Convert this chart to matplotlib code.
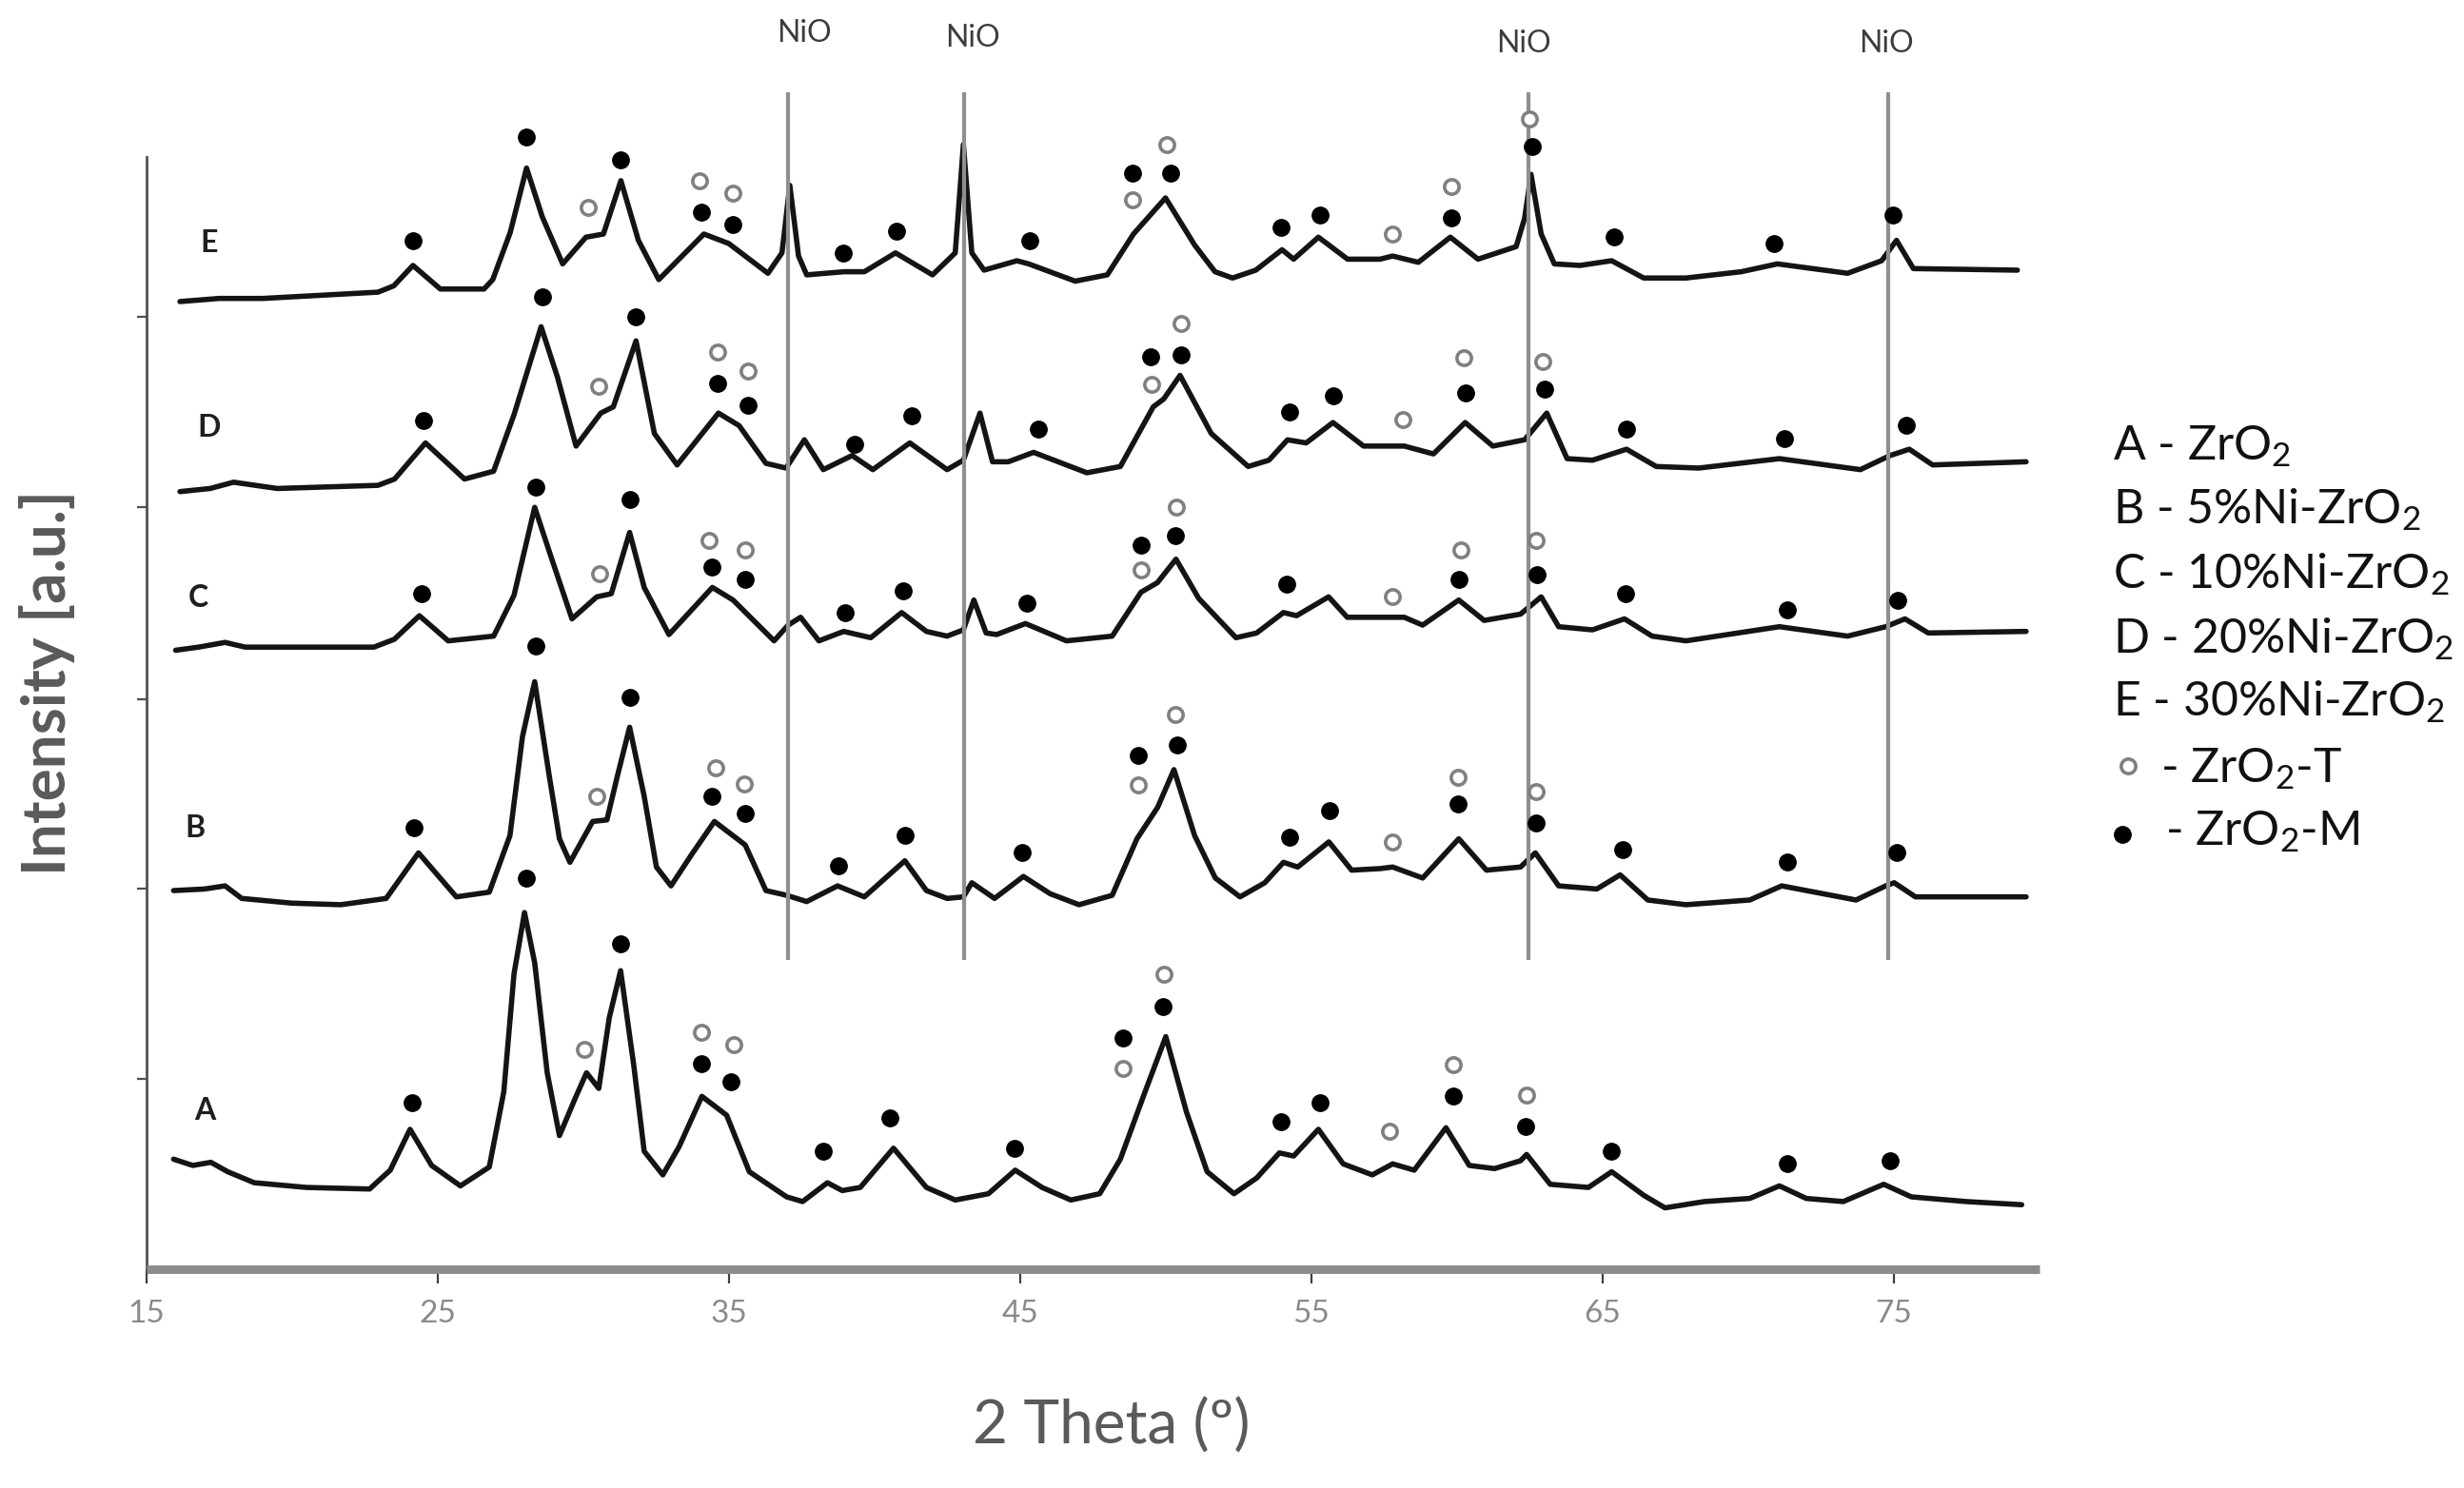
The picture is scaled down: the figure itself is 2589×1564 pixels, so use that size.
import matplotlib
matplotlib.use('Agg')
import matplotlib.pyplot as plt
from matplotlib.lines import Line2D

plt.rcParams['font.family'] = ['Lato', 'DejaVu Sans']
plt.rcParams['mathtext.fontset'] = 'custom'
plt.rcParams['mathtext.rm'] = 'Lato'
plt.rcParams['mathtext.it'] = 'Lato:italic'
plt.rcParams['mathtext.bf'] = 'Lato:bold'

# ---------------- data (2 theta in degrees, intensity in a.u.) ----------------
A_theta = [15.94, 16.6, 17.22, 17.8, 18.71, 20.5, 22.67, 23.38, 24.06, 24.8, 25.79, 26.78, 27.28, 27.63,
           27.99, 28.34, 28.77, 29.19, 29.76, 30.12, 30.54, 30.9, 31.29, 31.74, 32.1, 32.74, 33.3, 34.08,
           34.93, 35.71, 36.99, 37.54, 38.39, 38.9, 39.52, 40.66, 41.79, 42.78, 43.92, 44.84, 45.76, 46.75,
           47.74, 48.45, 49.3, 50.01, 50.72, 51.43, 52.35, 53.13, 53.91, 54.4, 55.25, 56.1, 57.1, 57.8,
           58.54, 59.63, 60.43, 61.3, 62.19, 62.4, 63.21, 64.52, 65.32, 66.42, 67.15, 68.5, 70.06, 71.08,
           72.0, 73.27, 74.66, 75.61, 77.5, 79.4]
A_int = [70, 66, 68, 62, 55, 52, 51, 63, 89, 66, 53, 65, 113, 188,
         227, 195, 125, 85, 110, 125, 115, 160, 190, 130, 75, 60, 78, 110,
         98, 62, 46, 43, 55, 50, 52, 77, 52, 44, 48, 63, 52, 44,
         48, 70, 113, 148, 100, 62, 48, 58, 74, 72, 89, 67, 60, 67,
         63, 90, 66, 64, 69, 73, 54, 52, 62, 47, 39, 43, 45, 53,
         45, 43, 54, 46, 43, 41]

B_theta = [15.94, 17.0, 17.71, 18.28, 20.0, 21.68, 23.24, 24.35, 25.65, 26.78, 27.49, 27.92, 28.34, 28.84,
           29.19, 29.55, 30.33, 30.82, 31.18, 31.6, 32.1, 32.52, 33.02, 33.73, 34.51, 35.29, 35.57, 36.28,
           36.99, 37.68, 38.74, 39.66, 41.05, 41.79, 42.5, 43.06, 43.35, 44.13, 45.12, 46.04, 47.03, 48.17,
           49.02, 49.73, 50.29, 51.0, 51.71, 52.56, 53.41, 54.05, 54.54, 55.61, 56.39, 57.37, 57.8, 58.83,
           60.07, 61.02, 62.19, 62.7, 63.5, 64.81, 65.61, 66.56, 67.87, 70.06, 71.16, 73.71, 74.73, 75.02,
           75.75, 79.55]
B_int = [241, 242, 244, 236, 233, 232, 236, 265, 237, 240, 276, 339, 374, 314,
         274, 259, 285, 286, 314, 345, 301, 256, 244, 264, 285, 274, 270, 241,
         238, 234, 244, 237, 260, 241, 236, 237, 246, 236, 250, 239, 232, 238,
         274, 294, 318, 276, 249, 237, 246, 259, 256, 272, 254, 255, 256, 249,
         274, 254, 256, 265, 244, 242, 251, 235, 232, 235, 244, 235, 244, 246,
         237, 237]

C_theta = [16.01, 16.8, 17.71, 18.4, 20.5, 22.82, 23.52, 24.38, 25.37, 26.93, 27.63, 28.34, 28.91, 29.62,
           30.47, 30.97, 31.6, 32.1, 32.95, 34.44, 35.15, 36.56, 37.04, 37.47, 38.1, 38.95, 39.88, 40.94,
           41.79, 42.5, 43.06, 43.42, 43.84, 44.2, 45.19, 46.6, 48.17, 49.16, 49.72, 50.36, 51.14, 52.42,
           53.13, 54.05, 54.5, 55.6, 56.24, 57.37, 58.2, 58.83, 60.07, 60.94, 62.19, 62.9, 63.5, 64.66,
           65.76, 66.71, 67.87, 71.08, 73.42, 74.73, 75.39, 76.19, 79.55]
C_int = [394, 396, 399, 396, 396, 396, 401, 416, 400, 403, 429, 485, 453, 414,
         428, 430, 469, 434, 404, 434, 426, 400, 410, 415, 400, 406, 402, 418,
         406, 403, 407, 426, 405, 404, 411, 400, 403, 431, 437, 452, 427, 402,
         405, 418, 416, 428, 415, 415, 415, 410, 426, 413, 417, 428, 409, 407,
         414, 403, 400, 409, 403, 409, 414, 405, 406]

D_theta = [16.16, 17.2, 18.0, 19.5, 22.96, 23.53, 24.59, 25.93, 26.93, 27.63, 28.56, 29.12, 29.76, 30.61,
           31.04, 31.82, 32.45, 33.23, 34.65, 35.36, 36.28, 36.97, 37.6, 38.25, 39.24, 39.95, 41.22, 42.5,
           43.06, 43.63, 44.06, 44.6, 45.47, 47.3, 48.45, 49.58, 49.94, 50.5, 51.57, 52.84, 53.55, 54.19,
           54.83, 55.75, 56.8, 58.2, 59.2, 60.29, 61.24, 62.33, 63.09, 63.79, 64.66, 65.83, 66.85, 68.31,
           71.08, 73.86, 74.88, 75.54, 76.34, 79.55]
D_int = [495, 497, 501, 497, 499, 503, 526, 503, 508, 544, 600, 568, 524, 545,
         549, 591, 532, 512, 545, 537, 513, 510, 528, 509, 518, 509, 526, 509,
         515, 545, 514, 514, 520, 507, 511, 549, 554, 569, 532, 511, 515, 528,
         526, 539, 524, 524, 519, 539, 524, 528, 545, 516, 515, 522, 511, 510,
         516, 509, 518, 522, 512, 514]

E_theta = [16.16, 17.5, 19.0, 21.0, 22.96, 23.5, 24.16, 25.1, 26.6, 26.9, 27.5, 28.06, 28.6, 29.3,
           30.1, 30.7, 31.3, 31.9, 32.6, 34.15, 35.0, 36.35, 36.83, 37.1, 37.4, 37.68, 38.96, 39.66,
           40.73, 42.0, 42.78, 43.06, 43.35, 43.77, 44.9, 45.3, 46.9, 48.0, 48.9, 50.0, 51.0, 51.7,
           52.3, 53.1, 54.0, 54.4, 55.25, 56.25, 57.37, 57.8, 58.68, 59.78, 60.73, 62.04, 62.33, 62.55,
           62.9, 63.35, 64.23, 65.32, 66.42, 67.87, 69.77, 71.01, 73.42, 74.59, 75.1, 75.68, 79.25]
E_int = [616, 618, 618, 620, 622, 626, 639, 624, 624, 630, 660, 701, 670, 640,
         657, 659, 693, 655, 630, 659, 653, 634, 647, 690, 645, 633, 635, 635,
         647, 633, 647, 716, 647, 636, 642, 640, 629, 633, 659, 682, 652, 635,
         631, 636, 649, 643, 657, 643, 643, 645, 641, 657, 643, 651, 669, 697,
         659, 640, 639, 642, 631, 631, 635, 640, 634, 642, 655, 637, 636]

# phase markers: monoclinic (filled) and tetragonal (open) ZrO2
A_M_theta = [24.12, 28.06, 31.29, 34.08, 35.08, 38.25, 40.54, 44.81, 48.55, 49.9, 53.95, 55.32, 59.89, 62.37, 65.32, 71.35, 74.88]
A_M_int = [106, 249, 207, 131, 119, 75, 96, 77, 147, 167, 94, 106, 110, 91, 75, 67, 69]
A_T_theta = [30.04, 34.08, 35.17, 48.55, 49.94, 57.7, 59.89, 62.4]
A_T_int = [140, 151, 143, 128, 188, 88, 130, 111]

B_M_theta = [24.21, 28.39, 31.6, 34.41, 35.57, 38.77, 41.05, 45.09, 49.06, 50.41, 54.26, 55.64, 60.03, 62.74, 65.69, 71.35, 75.1]
B_M_int = [281, 397, 364, 301, 290, 257, 276, 265, 327, 334, 275, 292, 296, 284, 267, 259, 265]
B_T_theta = [30.47, 34.55, 35.54, 49.06, 50.33, 57.8, 60.03, 62.74]
B_T_int = [301, 319, 309, 308, 353, 272, 313, 304]

C_M_theta = [24.45, 28.39, 31.6, 34.41, 35.57, 39.0, 40.98, 45.23, 49.16, 50.33, 54.15, 60.07, 62.77, 65.8, 71.35, 75.14]
C_M_int = [430, 498, 490, 447, 439, 418, 432, 424, 461, 467, 436, 439, 442, 430, 420, 426]
C_T_theta = [30.57, 34.34, 35.57, 49.16, 50.36, 57.8, 60.14, 62.74]
C_T_int = [443, 464, 458, 445, 485, 428, 458, 464]

D_M_theta = [24.52, 28.6, 31.82, 34.62, 35.67, 39.31, 41.29, 45.64, 49.48, 50.55, 54.26, 55.75, 60.29, 63.03, 65.83, 71.26, 75.42]
D_M_int = [540, 619, 606, 564, 550, 525, 543, 535, 581, 582, 546, 556, 558, 560, 535, 529, 537]
D_T_theta = [30.54, 34.62, 35.67, 49.51, 50.55, 58.16, 60.24, 62.96]
D_T_int = [562, 584, 572, 563, 602, 541, 580, 578]

E_M_theta = [24.16, 28.06, 31.29, 34.08, 35.15, 38.93, 40.75, 45.33, 48.88, 50.19, 53.95, 55.32, 59.82, 62.58, 65.39, 70.91, 74.98]
E_M_int = [655, 721, 706, 673, 665, 647, 661, 655, 698, 698, 663, 671, 669, 715, 657, 653, 671]
E_T_theta = [30.19, 34.01, 35.15, 48.88, 50.05, 57.8, 59.82, 62.51]
E_T_int = [676, 693, 685, 681, 716, 659, 689, 732]

series_names = ['A', 'B', 'C', 'D', 'E']
series_label_theta = [17.0, 16.67, 16.78, 17.16, 17.16]
series_label_int = [101, 281, 427, 536, 653]

nio_theta = [37.04, 43.09, 62.45, 74.83]
nio_label_theta = [37.6, 43.37, 62.3, 74.74]
nio_label_int = [787, 784, 780, 780]

xticks = [15, 25, 35, 45, 55, 65, 75]
yticks = [121, 242, 363, 485, 606]

legend_texts = ['A - ZrO$_2$', 'B - 5%Ni-ZrO$_2$', 'C - 10%Ni-ZrO$_2$',
                'D - 20%Ni-ZrO$_2$', 'E - 30%Ni-ZrO$_2$']

# ---------------- figure ----------------
fig = plt.figure(figsize=(25.89, 15.64), dpi=100)
ax = fig.add_axes([0.05933, 0.1471, 0.8276 - 0.05933, 0.8529])
ax.set_xlim(15, 80)
ax.set_ylim(0, 808)

traces = [(A_theta, A_int), (B_theta, B_int), (C_theta, C_int), (D_theta, D_int), (E_theta, E_int)]
for th, it in traces:
    ax.plot(th, it, color='#141414', lw=4.0, solid_joinstyle='round', solid_capstyle='round', zorder=2)

mono = [(A_M_theta, A_M_int), (B_M_theta, B_M_int), (C_M_theta, C_M_int), (D_M_theta, D_M_int), (E_M_theta, E_M_int)]
tetra = [(A_T_theta, A_T_int), (B_T_theta, B_T_int), (C_T_theta, C_T_int), (D_T_theta, D_T_int), (E_T_theta, E_T_int)]
for th, it in mono:
    ax.plot(th, it, 'o', ms=12.5, color='black', mec='black', zorder=5)
for th, it in tetra:
    ax.plot(th, it, 'o', ms=11, mfc='white', mec='#808080', mew=2.6, zorder=5)

ax.vlines(nio_theta, 197, 749, color='#8f8f8f', lw=3.0, zorder=3)
for xt, yt in zip(nio_label_theta, nio_label_int):
    ax.text(xt, yt, 'NiO', fontsize=23, ha='center', va='center', color='#3c3c3c', clip_on=False)

for name, xt, yt in zip(series_names, series_label_theta, series_label_int):
    ax.text(xt, yt, name, fontsize=23, ha='center', va='center', color='#1f1f1f', fontweight='bold')

# axes styling
for s in ['top', 'right']:
    ax.spines[s].set_visible(False)
ax.spines['bottom'].set_color('#8c8c8c')
ax.spines['bottom'].set_linewidth(6.5)
ax.spines['bottom'].set_capstyle('butt')
ax.spines['left'].set_color('#505050')
ax.spines['left'].set_linewidth(2.0)
ax.spines['left'].set_bounds(0, 708)
ax.set_xticks(xticks)
ax.set_xticklabels([str(t) for t in xticks])
ax.set_yticks(yticks)
ax.set_yticklabels([])
ax.tick_params(axis='x', direction='out', length=11, width=1.6, color='#404040',
               labelsize=24, labelcolor='#8a8a8a', pad=12)
ax.tick_params(axis='y', direction='out', length=7, width=1.6, color='#505050')

fig.text(0.451, 0.0414, '2 Theta (º)', fontsize=46, ha='center', va='center', color='#5a5a5a')
fig.text(0.0191, 0.541, 'Intensity [a.u.]', fontsize=46, ha='center', va='center',
         color='#5a5a5a', rotation=90, fontweight='bold')

# legend block on the right
leg_y = [0.691, 0.648, 0.605, 0.561, 0.519]
for txt, yy in zip(legend_texts, leg_y):
    fig.text(0.8575, yy, txt, fontsize=36, ha='left', va='baseline', color='#111111')
fig.text(0.8768, 0.474, '- ZrO$_2$-T', fontsize=36, ha='left', va='baseline', color='#111111')
fig.text(0.8787, 0.432, '- ZrO$_2$-M', fontsize=36, ha='left', va='baseline', color='#111111')
fig.add_artist(Line2D([0.8637], [0.4853], marker='o', ms=11, mfc='white', mec='#808080', mew=2.6,
                      transform=fig.transFigure, linestyle='none'))
fig.add_artist(Line2D([0.8613], [0.4393], marker='o', ms=12.5, color='black',
                      transform=fig.transFigure, linestyle='none'))

fig.savefig('out.png', dpi=100)
